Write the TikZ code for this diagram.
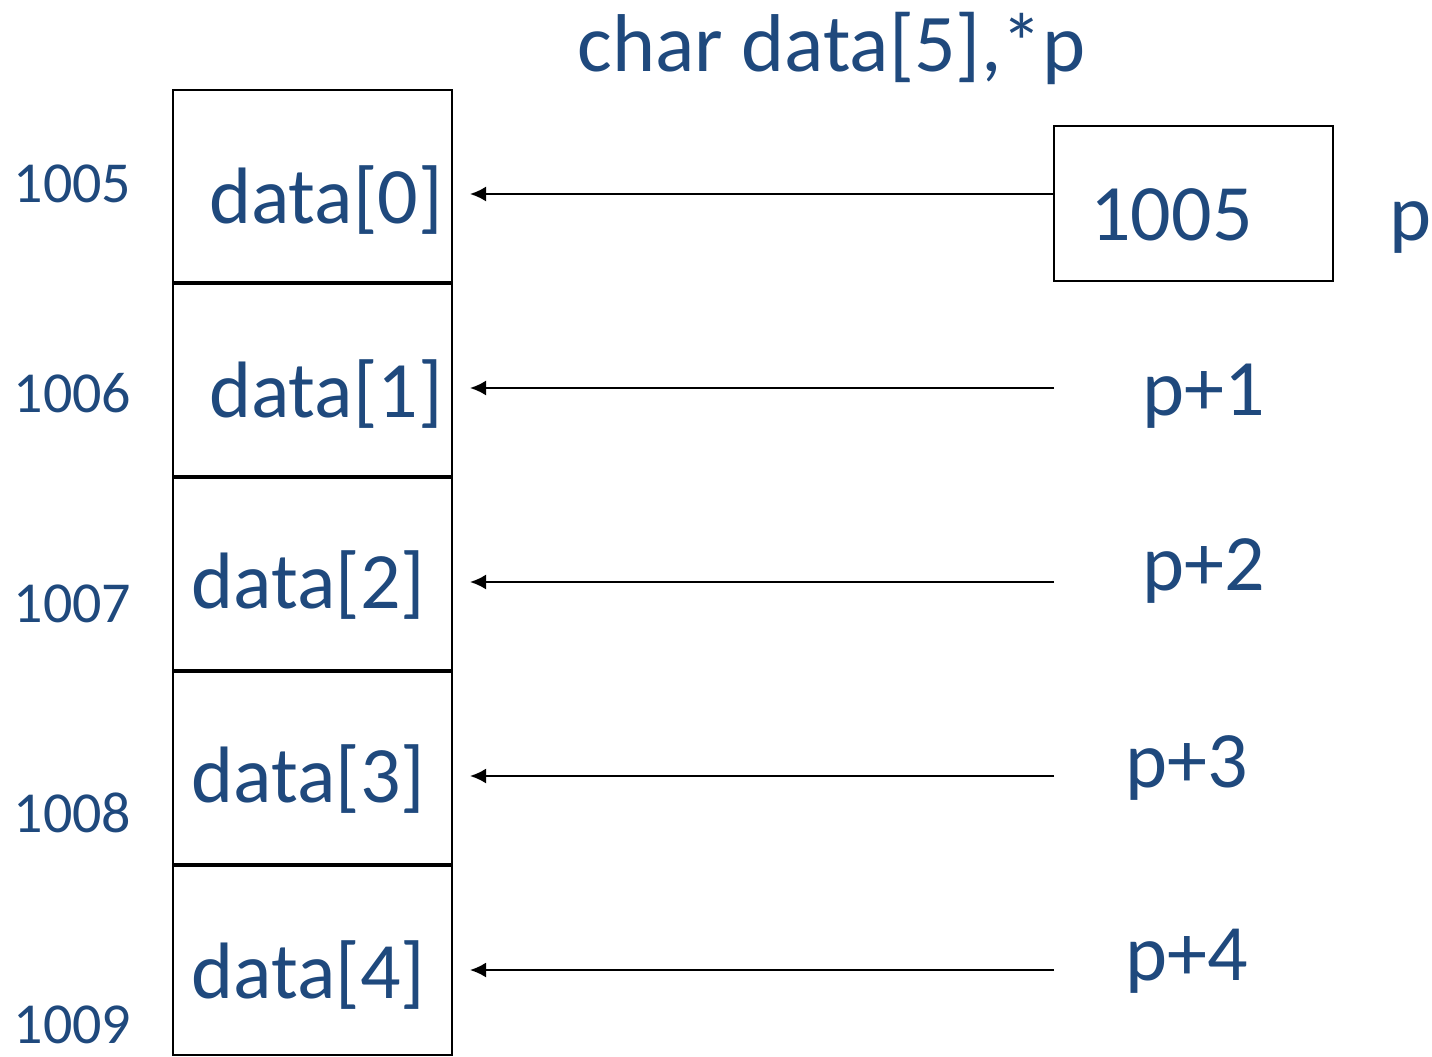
\documentclass[tikz,border=0pt]{standalone}
\usepackage{fontspec}
\setmainfont{Carlito}
\usetikzlibrary{arrows.meta}
\definecolor{txtblue}{RGB}{31,73,125}
\tikzset{
  cell/.style={draw=black, line width=2.8pt, minimum width=279pt, inner sep=0pt, outer sep=0pt},
  big/.style={text=txtblue, inner sep=0pt, anchor=base, font=\fontsize{80}{96}\selectfont},
  title/.style={text=txtblue, inner sep=0pt, anchor=base, font=\fontsize{82}{98}\selectfont},
  addr/.style={text=txtblue, inner sep=0pt, anchor=base, font=\fontsize{58}{70}\selectfont},
  ptrarrow/.style={draw=black, line width=2.2pt, -{Latex[length=16pt,width=15pt]}}
}
\begin{document}
\begin{tikzpicture}[x=1pt,y=-1pt]
\useasboundingbox (0,0) rectangle (1432,1057);
% title
\node[title] (title) at (831.5,72) {char data[5],*p};
% array cells
\node[cell, minimum height=192pt] (c0) at (312.5,186) {};
\node[cell, minimum height=192pt] (c1) at (312.5,380) {};
\node[cell, minimum height=192pt] (c2) at (312.5,574) {};
\node[cell, minimum height=192pt] (c3) at (312.5,768) {};
\node[cell, minimum height=189pt] (c4) at (312.5,960.5) {};
% cell texts
\node[big] (t0) at (326,223) {data[0]};
\node[big] (t1) at (326,417) {data[1]};
\node[big] (t2) at (308.5,608) {data[2]};
\node[big] (t3) at (308.5,802) {data[3]};
\node[big] (t4) at (308.5,998) {data[4]};
% addresses
\node[addr] (a0) at (72.5,202) {1005};
\node[addr] (a1) at (72.5,412) {1006};
\node[addr] (a2) at (72.5,622) {1007};
\node[addr] (a3) at (72.5,832) {1008};
\node[addr] (a4) at (72.5,1043) {1009};
% pointer box
\node[cell, minimum height=155pt] (pbox) at (1193.5,203.5) {};
\node[big] (pval) at (1171.5,240) {1005};
\node[big] (pname) at (1410,240) {p};
% pointer expressions
\node[big] (p1) at (1204,415) {p+1};
\node[big] (p2) at (1204,590) {p+2};
\node[big] (p3) at (1186.5,787) {p+3};
\node[big] (p4) at (1186.5,980) {p+4};
% arrow endpoints
\coordinate (s0) at (pbox.west |- 0,194);
\coordinate (s1) at (1054,388);
\coordinate (s2) at (1054,582);
\coordinate (s3) at (1054,776);
\coordinate (s4) at (1054,970);
\coordinate (e0) at ([xshift=18pt]c0.east |- 0,194);
\coordinate (e1) at ([xshift=18pt]c1.east |- 0,388);
\coordinate (e2) at ([xshift=18pt]c2.east |- 0,582);
\coordinate (e3) at ([xshift=18pt]c3.east |- 0,776);
\coordinate (e4) at ([xshift=18pt]c4.east |- 0,970);
\foreach \i in {0,...,4} {\draw[ptrarrow] (s\i) -- (e\i);}
\end{tikzpicture}
\end{document}
